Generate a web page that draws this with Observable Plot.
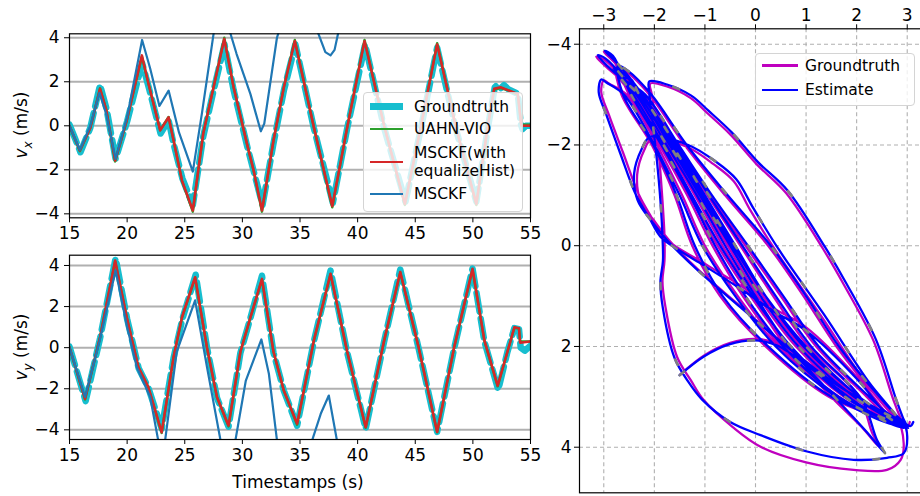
<!DOCTYPE html>
<html><head><meta charset="utf-8">
<script src="https://cdn.jsdelivr.net/npm/d3@7"></script>
<script src="https://cdn.jsdelivr.net/npm/@observablehq/plot@0.6"></script>
<style>
body{margin:0;background:#fff;overflow:hidden;}
#root{position:relative;width:920px;height:496px;overflow:hidden;font-family:"DejaVu Sans",sans-serif;color:#000;}
#root svg{position:absolute;overflow:visible;}
.legend{position:absolute;background:rgba(255,255,255,0.8);border:1px solid #d4d4d4;border-radius:4px;box-sizing:border-box;}
.lt{position:absolute;font-size:15.5px;line-height:18px;white-space:nowrap;}
.lh{position:absolute;height:0;}
.ylab{position:absolute;font-size:17px;white-space:nowrap;transform:translate(-50%,-50%) rotate(-90deg);}
.xlab{position:absolute;font-size:17px;white-space:nowrap;transform:translate(-50%,-50%);}
</style>
</head><body><div id="root"></div>
<script>
// ---------- time-series data [t (s), v (m/s)] ----------
const timeTicks = [15, 20, 25, 30, 35, 40, 45, 50, 55];
const velTicks = [-4, -2, 0, 2, 4];

const gtVx = [[15,0.05],[15.5,-0.6],[15.95,-1.2],[16.8,-0.1],[17.65,1.85],[18.2,0.8],[19.0,-1.5],[20.0,0.2],[21.3,2.85],[21.9,1.7],[22.9,-0.35],[23.6,0.25],[24.0,-0.75],[24.8,-2.4],[25.7,-3.6],[26.6,-0.5],[27.5,1.6],[28.45,3.7],[29.25,1.6],[30.4,-0.9],[31.0,-2.1],[31.75,-3.6],[32.7,-0.8],[33.6,1.6],[34.6,3.7],[36.2,-0.1],[37.85,-3.5],[39.1,-0.1],[40.65,3.7],[42.3,-0.1],[44.15,-3.45],[45.5,-0.1],[46.9,3.55],[48.5,-0.1],[50.3,-3.45],[51.3,-0.1],[51.9,1.75],[52.1,1.85],[52.4,1.7],[52.7,1.85],[53.1,1.65],[53.9,1.45],[54.15,0.1],[54.3,-0.15],[54.6,0.0],[55,0.0]];
const uahnVx = [[15,0],[15.9,-1.15],[16.8,-0.1],[17.65,1.7],[18.2,0.7],[18.96,-1.62],[19.97,0.24],[21.28,3.15],[21.86,1.9],[22.87,-0.2],[23.6,0.4],[24.03,-0.66],[24.76,-2.5],[25.7,-3.9],[26.6,-0.36],[27.5,1.75],[28.43,4.0],[29.24,1.75],[30.4,-0.82],[30.98,-2.05],[31.7,-3.9],[32.7,-0.67],[33.6,1.75],[34.55,3.9],[36.2,-0.06],[37.8,-3.7],[39.1,-0.06],[40.6,3.9],[42.3,0],[44.1,-3.6],[45.5,0],[46.9,3.75],[48.5,0],[50.3,-3.6],[51.3,0],[51.85,1.65],[52.4,1.72],[53.15,1.6],[53.9,1.42],[54.2,0.05],[55,0.05]];
const eqVx = [[15,0],[15.9,-1.12],[16.8,-0.1],[17.65,1.68],[18.2,0.7],[18.96,-1.58],[19.97,0.24],[21.28,3.2],[21.86,1.9],[22.87,-0.21],[23.6,0.39],[24.03,-0.67],[24.76,-2.49],[25.7,-3.85],[26.6,-0.36],[27.5,1.75],[28.43,3.95],[29.24,1.75],[30.4,-0.82],[30.98,-2.03],[31.7,-3.85],[32.7,-0.67],[33.6,1.75],[34.55,3.85],[36.2,-0.06],[37.8,-3.65],[39.1,-0.06],[40.6,3.85],[42.3,0],[44.1,-3.55],[45.5,0],[46.9,3.7],[48.5,0],[50.3,-3.55],[51.3,0],[51.85,1.68],[52.4,1.75],[53.15,1.6],[53.9,1.45],[54.2,0.0],[55,0.0]];
const msckfVx = [[15,0],[15.9,-1.1],[16.8,0],[17.6,1.5],[18.2,0.5],[19.0,-1.5],[20.0,0.4],[21.3,3.9],[22.0,2.6],[22.8,0.9],[23.6,1.6],[24.5,-0.3],[25.7,-2.08],[26.5,0.6],[27.5,4.18],[28.2,5.3],[28.97,4.18],[29.5,3.26],[30.7,1.44],[31.6,-0.25],[31.9,0.1],[33.0,4.0],[34.5,6.5],[36.6,4.18],[37.2,3.35],[37.65,3.2],[38.0,3.45],[38.3,4.18],[40,6.5],[45,8],[55,8]];

const gtVy = [[15,0.05],[16.4,-2.6],[17.65,0.45],[19.0,4.35],[20.0,1.4],[21.0,-1.0],[21.84,-1.95],[23.0,-3.95],[24.03,-0.5],[24.8,1.4],[25.95,3.55],[26.93,0],[27.8,-2.45],[28.8,-3.85],[29.83,-0.25],[30.7,1.45],[31.7,3.5],[32.7,-0.25],[33.6,-2.1],[34.75,-3.8],[36.2,0.3],[37.65,3.75],[39.1,-0.25],[40.7,-3.95],[42.3,0.3],[43.7,3.8],[45.3,-0.05],[46.9,-4.1],[48.37,-0.05],[49.97,3.85],[51.0,0.3],[52.2,-2.05],[53.0,-0.2],[53.6,0.95],[54.0,0.9],[54.15,0.0],[54.5,-0.15],[55,0.1]];
const uahnVy = [[15,0.02],[16.35,-2.52],[17.65,0.5],[18.96,4.2],[19.97,1.46],[20.98,-0.97],[21.84,-1.94],[23.0,-4.15],[24.03,-0.47],[24.76,1.46],[25.9,3.4],[26.93,0],[27.8,-2.43],[28.8,-3.83],[29.83,-0.2],[30.7,1.46],[31.7,3.32],[32.7,-0.2],[33.6,-2.1],[34.75,-3.75],[36.2,0.33],[37.65,3.58],[39.1,-0.22],[40.7,-3.9],[42.3,0.33],[43.7,3.66],[45.3,0],[46.9,-4.12],[48.37,0],[49.97,3.8],[51.0,0.33],[52.15,-1.88],[53.0,-0.2],[53.6,0.97],[54.0,0.93],[54.1,0.3],[55,0.3]];
const eqVy = [[15,0.02],[16.35,-2.49],[17.65,0.51],[18.96,4.24],[19.97,1.48],[20.98,-0.95],[21.84,-1.92],[23.0,-4.12],[24.03,-0.46],[24.76,1.48],[25.9,3.43],[26.93,0],[27.8,-2.41],[28.8,-3.79],[29.83,-0.2],[30.7,1.48],[31.7,3.35],[32.7,-0.2],[33.6,-2.09],[34.75,-3.7],[36.2,0.35],[37.65,3.6],[39.1,-0.2],[40.7,-3.87],[42.3,0.35],[43.7,3.68],[45.3,0],[46.9,-4.1],[48.37,0],[49.97,3.84],[51.0,0.35],[52.15,-1.85],[53.0,-0.2],[53.6,0.99],[54.0,0.95],[54.1,0.24],[55,0.3]];
const msckfVy = [[15,0],[16.35,-2.4],[17.6,0.3],[19.0,3.76],[20.0,1.0],[20.84,-0.95],[22.0,-2.4],[22.7,-4.52],[23.0,-5.2],[23.3,-4.5],[24.3,-0.2],[25.9,2.3],[26.93,-0.95],[28.1,-4.5],[28.7,-6.0],[29.4,-4.5],[30.3,-1.6],[31.65,0.4],[32.3,-1.27],[33.0,-4.5],[34.5,-8],[36.06,-4.5],[36.8,-3.22],[37.5,-2.33],[38.2,-4.5],[40,-8],[45,-12],[55,-12]];

// ---------- trajectory data [x, y] ----------
const posXTicks = [-3, -2, -1, 0, 1, 2, 3];
const posYTicks = [-4, -2, 0, 2, 4];
const gtPath = [
[-1.48,2.55],[-1.0,2.17],[-0.5,1.93],[0.0,1.85],[0.45,1.95],[1.2,2.45],[2.0,3.05],[2.55,3.42],[2.82,3.56],
[2.6,3.45],[1.75,3.0],[0.65,2.0],[-0.1,1.0],[-0.75,0.0],[-1.3,-1.0],[-1.85,-2.0],[-2.45,-3.0],[-2.82,-3.5],
[-2.65,-3.4],[-2.3,-3.0],[-1.65,-2.0],[-1.05,-1.0],[-0.45,0.0],[0.15,1.0],[0.9,2.0],[2.0,3.0],[2.6,3.4],[2.9,3.6],
[2.7,3.45],[2.0,2.6],[1.0,1.62],[0.36,1.24],[-0.33,0.77],[-1.1,0.3],[-1.6,0.0],[-1.85,-0.2],
[-2.05,-0.55],[-2.3,-1.0],[-2.62,-1.85],[-2.9,-2.6],[-3.05,-3.05],[-3.0,-3.28],[-2.9,-3.22],
[-2.55,-3.0],[-1.95,-2.0],[-1.45,-1.0],[-1.0,0.0],[-0.35,1.0],[0.45,2.0],[1.65,3.0],[2.4,3.4],[2.78,3.52],
[2.55,3.38],[1.9,3.0],[0.8,2.0],[0.05,1.0],[-0.55,0.0],[-1.15,-1.0],[-1.75,-2.0],[-2.35,-3.0],[-2.95,-3.55],[-3.15,-3.75],
[-3.0,-3.7],[-2.4,-3.0],[-1.8,-2.0],[-1.2,-1.0],[-0.65,0.0],[-0.05,1.0],[0.6,2.0],[1.5,3.0],[2.1,3.6],[2.44,3.99],
[2.3,3.7],[2.05,3.0],[1.05,2.0],[0.35,1.0],[-0.3,0.0],[-0.95,-1.0],[-1.6,-2.0],[-2.25,-3.0],[-2.75,-3.6],[-3.0,-3.85],
[-2.85,-3.75],[-2.5,-3.0],[-1.9,-2.0],[-1.35,-1.0],[-0.85,0.0],[-0.25,1.0],[0.5,2.0],[1.6,3.0],[2.5,3.45],[2.95,3.6],
[2.88,3.45],[2.73,3.07],[2.33,1.88],[1.74,0.76],[1.34,0.07],[0.6,-1.05],[0.03,-1.61],[-0.49,-2.2],[-0.95,-2.63],[-1.28,-2.93],[-1.75,-3.16],[-2.08,-3.22],
[-2.05,-3.0],[-1.98,-2.5],[-1.9,-1.7],[-1.84,-0.9],[-1.8,-0.2],[-1.8,0.3],[-1.84,0.7],[-1.78,1.22],[-1.55,2.21],[-1.28,2.67],[-1.02,3.07],[-0.45,3.6],[0.1,3.99],[1.0,4.3],[1.94,4.45],[2.6,4.45],[2.87,4.25],[2.93,3.92],[2.8,3.46],
[2.5,3.3],[1.5,2.7],[0.5,1.9],[-0.3,1.2],[-1.15,0.46],[-1.7,-0.1],[-2.0,-0.49],[-2.27,-0.88],[-2.34,-1.41],[-2.2,-1.9],[-2.05,-2.12],[-1.35,-1.96],[-0.83,-1.62],[-0.43,-1.28],[-0.1,-0.7],[0.4,0.1],[1.3,1.4],[2.2,2.75],[2.75,3.45],
[2.5,3.3],[2.2,3.0],[1.2,2.0],[0.5,1.0],[-0.2,0.0],[-0.9,-1.0],[-1.55,-2.0],[-2.2,-3.0],[-2.65,-3.3],
[-2.5,-3.3],[-2.35,-3.0],[-1.7,-2.0],[-1.1,-1.0],[-0.5,0.0],[0.15,1.0],[0.95,2.0],[2.0,3.0],[2.6,3.38],[2.97,3.62],
[2.7,3.5],[1.45,3.0],[0.2,2.0],[-0.7,1.0],[-1.25,0.0],[-1.6,-1.0],[-2.05,-2.0],[-2.65,-3.0],[-2.75,-3.55],
[-2.55,-3.45],[-2.1,-3.0],[-1.4,-2.0],[-0.6,-1.0],[0.25,0.0],[0.95,1.0],[1.6,2.0],[2.4,3.0],[2.8,3.4],[3.0,3.6],[3.05,3.5]
];
const estPath = [
[-1.5,2.57],[-1.02,2.2],[-0.52,1.96],[-0.02,1.88],[0.43,1.98],[1.18,2.5],[1.98,3.1],[2.55,3.48],[2.85,3.6],
[2.62,3.48],[1.8,3.02],[0.7,2.0],[-0.05,1.0],[-0.7,0.0],[-1.26,-1.0],[-1.82,-2.0],[-2.43,-3.02],[-2.8,-3.52],
[-2.62,-3.42],[-2.26,-3.0],[-1.6,-2.0],[-1.0,-1.0],[-0.4,0.0],[0.2,1.0],[0.95,2.0],[2.05,3.0],[2.64,3.42],[2.93,3.62],
[2.72,3.5],[2.02,2.66],[1.02,1.7],[0.36,1.3],[-0.35,0.82],[-1.12,0.33],[-1.62,0.02],[-1.88,-0.18],
[-2.1,-0.55],[-2.36,-1.0],[-2.68,-1.85],[-2.95,-2.6],[-3.1,-3.05],[-3.05,-3.3],[-2.95,-3.24],
[-2.6,-3.0],[-2.0,-2.0],[-1.5,-1.0],[-1.05,0.0],[-0.4,1.0],[0.4,2.0],[1.6,3.0],[2.4,3.44],[2.8,3.56],
[2.58,3.4],[1.95,3.0],[0.85,2.0],[0.1,1.0],[-0.5,0.0],[-1.1,-1.0],[-1.7,-2.0],[-2.32,-3.0],[-2.92,-3.56],[-3.12,-3.78],
[-2.97,-3.72],[-2.36,-3.0],[-1.76,-2.0],[-1.16,-1.0],[-0.6,0.0],[0.0,1.0],[0.66,2.0],[1.56,3.0],[2.2,3.7],[2.56,4.12],
[2.4,3.85],[2.1,3.05],[1.1,2.0],[0.4,1.0],[-0.26,0.0],[-0.92,-1.0],[-1.57,-2.0],[-2.23,-3.0],[-2.73,-3.62],[-2.98,-3.87],
[-2.82,-3.77],[-2.46,-3.0],[-1.86,-2.0],[-1.3,-1.0],[-0.8,0.0],[-0.2,1.0],[0.55,2.0],[1.65,3.0],[2.55,3.45],[2.98,3.58],
[2.92,3.43],[2.78,3.05],[2.38,1.86],[1.78,0.72],[1.37,0.02],[0.63,-1.1],[0.05,-1.66],[-0.47,-2.25],[-0.93,-2.68],[-1.27,-2.98],[-1.75,-3.2],[-2.1,-3.26],
[-2.1,-3.05],[-2.04,-2.5],[-1.95,-1.7],[-1.88,-0.9],[-1.84,-0.2],[-1.83,0.3],[-1.88,0.72],[-1.83,1.25],[-1.6,2.23],[-1.33,2.7],[-1.06,3.05],[-0.5,3.5],[0.1,3.76],[1.0,4.08],[1.94,4.25],[2.6,4.21],[2.93,4.12],[3.0,3.79],[2.93,3.53],
[2.6,3.35],[1.55,2.72],[0.52,1.92],[-0.3,1.22],[-1.15,0.48],[-1.72,-0.08],[-2.05,-0.48],[-2.33,-0.9],[-2.4,-1.43],[-2.25,-1.92],[-2.08,-2.16],[-1.33,-2.0],[-0.8,-1.68],[-0.38,-1.32],[-0.04,-0.74],[0.45,0.06],[1.35,1.36],[2.25,2.72],[2.8,3.42],
[2.55,3.28],[2.25,3.0],[1.25,2.0],[0.55,1.0],[-0.15,0.0],[-0.86,-1.0],[-1.52,-2.0],[-2.18,-3.0],[-2.62,-3.32],
[-2.46,-3.3],[-2.3,-3.0],[-1.65,-2.0],[-1.05,-1.0],[-0.45,0.0],[0.2,1.0],[1.0,2.0],[2.05,3.0],[2.65,3.4],[3.02,3.62],
[2.74,3.5],[1.5,3.0],[0.25,2.0],[-0.65,1.0],[-1.2,0.0],[-1.56,-1.0],[-2.02,-2.0],[-2.62,-3.0],[-2.72,-3.57],
[-2.52,-3.47],[-2.06,-3.0],[-1.36,-2.0],[-0.55,-1.0],[0.3,0.0],[1.0,1.0],[1.65,2.0],[2.45,3.0],[2.84,3.42],[3.06,3.58],[3.12,3.5]
];

// ---------- styles ----------
const C = {gt:"#17becf", uahn:"#2ca02c", eq:"#d62728", msckf:"#1f77b4", traj:"#bf00bf", est:"#0000ff"};
const fmt = d => d < 0 ? "\u2212" + Math.abs(d) : String(d);
const baseStyle = {fontFamily:"DejaVu Sans", fontSize:"17px", color:"#000", background:"transparent", overflow:"visible"};
const X = d => d[0], Y = d => d[1];

function velPanel(series, yDomain, opts) {
  return Plot.plot({
    width: 540, height: opts.height,
    marginLeft: 69, marginRight: 10, marginTop: opts.mt, marginBottom: opts.mb,
    style: baseStyle,
    x: {domain: [15, 55]},
    y: {domain: yDomain},
    marks: [
      Plot.gridY(velTicks, {stroke:"#b0b0b0", strokeOpacity:1, strokeWidth:2}),
      Plot.line(series[0], {x:X, y:Y, stroke:C.gt, strokeWidth:6.5, strokeDasharray:"19,7", strokeLinejoin:"round", clip:true}),
      Plot.line(series[1], {x:X, y:Y, stroke:C.uahn, strokeWidth:2.5, strokeLinejoin:"round", clip:true}),
      Plot.line(series[2], {x:X, y:Y, stroke:C.eq, strokeWidth:2.5, strokeLinejoin:"round", clip:true}),
      Plot.line(series[3], {x:X, y:Y, stroke:C.msckf, strokeWidth:2.2, strokeLinejoin:"round", clip:true}),
      Plot.axisX({ticks: timeTicks, tickSize:5, tickPadding:4, label:null}),
      Plot.axisY({ticks: velTicks, tickSize:5, tickPadding:5, tickFormat: fmt, label:null}),
      Plot.frame({stroke:"#000", strokeWidth:1.2})
    ]
  });
}

const root = document.getElementById("root");

const p1 = velPanel([gtVx, uahnVx, eqVx, msckfVx], [-4.18, 4.18], {height:240, mt:33.3, mb:22.7});
p1.style.left = "0px"; p1.style.top = "0px";
root.appendChild(p1);

const p2 = velPanel([gtVy, uahnVy, eqVy, msckfVy], [-4.47, 4.5], {height:256, mt:14.7, mb:57});
p2.style.left = "0px"; p2.style.top = "240px";
root.appendChild(p2);

const p3 = Plot.plot({
  width: 400, height: 496,
  marginLeft: 39, marginRight: 0, marginTop: 28.3, marginBottom: 3.7,
  style: baseStyle,
  x: {domain: [-3.48, 3.658]},
  y: {domain: [-4.306, 4.905], reverse: true},
  marks: [
    Plot.gridX(posXTicks, {stroke:"#b0b0b0", strokeOpacity:1, strokeWidth:1.1, strokeDasharray:"4,3"}),
    Plot.gridY(posYTicks, {stroke:"#b0b0b0", strokeOpacity:1, strokeWidth:1.1, strokeDasharray:"4,3"}),
    Plot.line(gtPath, {x:X, y:Y, stroke:C.traj, strokeWidth:2.3, curve:"catmull-rom"}),
    Plot.line(estPath, {x:X, y:Y, stroke:C.est, strokeWidth:2.3, curve:"catmull-rom"}),
    Plot.line(estPath, {x:X, y:Y, stroke:"#808080", strokeWidth:2.6, strokeDasharray:"6,72", curve:"catmull-rom"}),
    Plot.axisX({anchor:"top", ticks: posXTicks, tickSize:5, tickPadding:3, tickFormat: fmt, label:null}),
    Plot.axisY({ticks: posYTicks, tickSize:5, tickPadding:3, tickFormat: fmt, label:null}),
    Plot.frame({stroke:"#000", strokeWidth:1.2})
  ]
});
p3.style.left = "540px"; p3.style.top = "0px";
root.appendChild(p3);

// ---------- labels ----------
function addDiv(cls, html, left, top) {
  const d = document.createElement("div");
  d.className = cls; d.innerHTML = html;
  d.style.left = left + "px"; d.style.top = top + "px";
  root.appendChild(d); return d;
}
addDiv("ylab", '<i>v</i><sub style="font-size:12px"><i>x</i></sub> (m/s)', 23, 125);
addDiv("ylab", '<i>v</i><sub style="font-size:12px"><i>y</i></sub> (m/s)', 23, 347);
addDiv("xlab", 'Timestamps (s)', 298, 482);

// ---------- legends ----------
function legend(box, items) {
  const b = document.createElement("div");
  b.className = "legend";
  Object.assign(b.style, {left: box[0]+"px", top: box[1]+"px", width: box[2]+"px", height: box[3]+"px"});
  root.appendChild(b);
  for (const it of items) {
    const h = document.createElement("div");
    h.className = "lh";
    Object.assign(h.style, {left: it.hx + "px", top: (it.hy - it.w/2) + "px", width: it.hw + "px", height: it.w + "px", background: it.color});
    root.appendChild(h);
    const t = document.createElement("div");
    t.className = "lt";
    t.innerHTML = it.text;
    Object.assign(t.style, {left: it.tx + "px", top: (it.ty - 9) + "px"});
    root.appendChild(t);
  }
}
legend([363, 92, 160, 120], [
  {text:"Groundtruth", color:C.gt, w:7, hx:370, hw:33, hy:106.5, tx:414, ty:106.5},
  {text:"UAHN-VIO", color:C.uahn, w:2.5, hx:370, hw:33, hy:129, tx:414, ty:129},
  {text:"MSCKF(with<br>equalizeHist)", color:C.eq, w:2.5, hx:370, hw:33, hy:162, tx:414, ty:153},
  {text:"MSCKF", color:C.msckf, w:2.5, hx:370, hw:33, hy:194, tx:414, ty:194}
]);
legend([755, 53, 160, 53], [
  {text:"Groundtruth", color:C.traj, w:2.5, hx:762, hw:36, hy:65.5, tx:805, ty:65.5},
  {text:"Estimate", color:C.est, w:2.5, hx:762, hw:36, hy:90, tx:805, ty:90}
]);
</script>
</body></html>
